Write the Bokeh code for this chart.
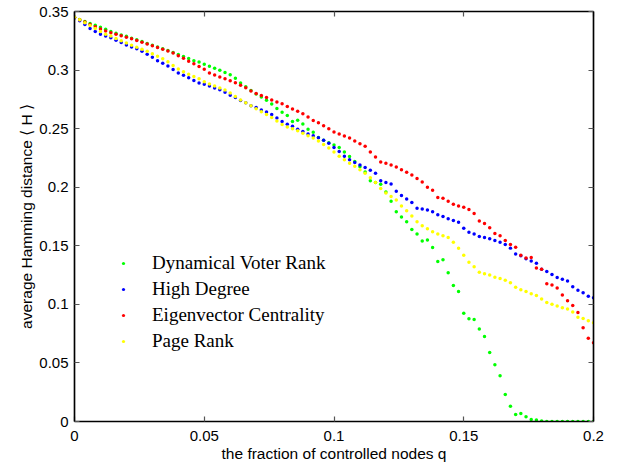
from bokeh.plotting import figure
from bokeh.models import Range1d, LinearAxis, FixedTicker, Legend, LegendItem
from bokeh.embed import file_html
from bokeh.resources import INLINE

# fraction of controlled nodes q (sampling positions)
q = [0.000, 0.002, 0.004, 0.006, 0.008, 0.010, 0.012, 0.014, 0.016, 0.018,
     0.020, 0.022, 0.024, 0.026, 0.028, 0.030, 0.032, 0.034, 0.036, 0.038,
     0.040, 0.042, 0.044, 0.046, 0.048, 0.050, 0.052, 0.054, 0.056, 0.058,
     0.060, 0.062, 0.064, 0.066, 0.068, 0.070, 0.072, 0.074, 0.076, 0.078,
     0.080, 0.082, 0.084, 0.086, 0.088, 0.090, 0.092, 0.094, 0.096, 0.098,
     0.100, 0.102, 0.104, 0.106, 0.108, 0.110, 0.112, 0.114, 0.116, 0.118,
     0.120, 0.122, 0.124, 0.126, 0.128, 0.130, 0.132, 0.134, 0.136, 0.138,
     0.140, 0.142, 0.144, 0.146, 0.148, 0.150, 0.152, 0.154, 0.156, 0.158,
     0.160, 0.162, 0.164, 0.166, 0.168, 0.170, 0.172, 0.174, 0.176, 0.178,
     0.180, 0.182, 0.184, 0.186, 0.188, 0.190, 0.192, 0.194, 0.196, 0.198,
     0.200]

dynamical_voter_rank = [
    0.3450, 0.3432, 0.3415, 0.3398, 0.3382, 0.3365, 0.3348, 0.3330, 0.3315, 0.3300,
    0.3288, 0.3272, 0.3258, 0.3243, 0.3227, 0.3212, 0.3196, 0.3182, 0.3168, 0.3150,
    0.3132, 0.3115, 0.3098, 0.3080, 0.3068, 0.3050, 0.3032, 0.3015, 0.2998, 0.2980,
    0.2960, 0.2930, 0.2890, 0.2858, 0.2825, 0.2795, 0.2770, 0.2742, 0.2710, 0.2672,
    0.2640, 0.2612, 0.2560, 0.2572, 0.2540, 0.2495, 0.2470, 0.2425, 0.2400, 0.2380,
    0.2360, 0.2340, 0.2300, 0.2262, 0.2220, 0.2175, 0.2130, 0.2055, 0.2040, 0.2025,
    0.1960, 0.1880, 0.1790, 0.1745, 0.1705, 0.1640, 0.1600, 0.1540, 0.1550, 0.1485,
    0.1365, 0.1380, 0.1270, 0.1160, 0.1110, 0.0925, 0.0877, 0.0870, 0.0790, 0.0725,
    0.0590, 0.0485, 0.0390, 0.0230, 0.0130, 0.0060, 0.0068, 0.0040, 0.0018, 0.0012,
    0.0005, 0.0000, 0.0000, 0.0000, 0.0000, 0.0000, 0.0000, 0.0000, 0.0000, 0.0000,
    0.0000]

high_degree = [
    0.3445, 0.3420, 0.3390, 0.3355, 0.3330, 0.3305, 0.3290, 0.3275, 0.3255, 0.3235,
    0.3215, 0.3198, 0.3182, 0.3160, 0.3135, 0.3110, 0.3080, 0.3058, 0.3035, 0.3005,
    0.2975, 0.2955, 0.2935, 0.2910, 0.2890, 0.2880, 0.2865, 0.2848, 0.2832, 0.2810,
    0.2785, 0.2765, 0.2740, 0.2720, 0.2695, 0.2680, 0.2660, 0.2642, 0.2620, 0.2590,
    0.2560, 0.2538, 0.2520, 0.2495, 0.2475, 0.2455, 0.2440, 0.2422, 0.2400, 0.2375,
    0.2340, 0.2305, 0.2265, 0.2235, 0.2210, 0.2190, 0.2168, 0.2145, 0.2120, 0.2055,
    0.2040, 0.2028, 0.1965, 0.1930, 0.1900, 0.1870, 0.1820, 0.1815, 0.1805, 0.1790,
    0.1765, 0.1750, 0.1730, 0.1715, 0.1700, 0.1650, 0.1615, 0.1600, 0.1580, 0.1570,
    0.1560, 0.1545, 0.1530, 0.1510, 0.1480, 0.1430, 0.1415, 0.1390, 0.1370, 0.1350,
    0.1300, 0.1280, 0.1255, 0.1230, 0.1215, 0.1200, 0.1150, 0.1120, 0.1100, 0.1070,
    0.1056]

eigenvector_centrality = [
    0.3450, 0.3430, 0.3410, 0.3390, 0.3370, 0.3350, 0.3333, 0.3318, 0.3305, 0.3292,
    0.3280, 0.3267, 0.3253, 0.3238, 0.3222, 0.3208, 0.3192, 0.3178, 0.3162, 0.3145,
    0.3122, 0.3100, 0.3075, 0.3055, 0.3030, 0.3008, 0.2975, 0.2958, 0.2940, 0.2925,
    0.2908, 0.2892, 0.2870, 0.2850, 0.2822, 0.2800, 0.2782, 0.2765, 0.2745, 0.2728,
    0.2712, 0.2690, 0.2668, 0.2648, 0.2628, 0.2600, 0.2570, 0.2550, 0.2525, 0.2500,
    0.2472, 0.2455, 0.2438, 0.2420, 0.2395, 0.2370, 0.2350, 0.2300, 0.2258, 0.2215,
    0.2205, 0.2190, 0.2172, 0.2150, 0.2128, 0.2105, 0.2075, 0.2045, 0.2000, 0.1975,
    0.1912, 0.1905, 0.1880, 0.1855, 0.1840, 0.1829, 0.1810, 0.1775, 0.1712, 0.1690,
    0.1655, 0.1605, 0.1585, 0.1545, 0.1510, 0.1488, 0.1420, 0.1395, 0.1400, 0.1310,
    0.1300, 0.1176, 0.1165, 0.1140, 0.1080, 0.1030, 0.0990, 0.0930, 0.0800, 0.0710,
    0.0672]

page_rank = [
    0.3450, 0.3430, 0.3405, 0.3380, 0.3355, 0.3330, 0.3305, 0.3290, 0.3270, 0.3250,
    0.3232, 0.3212, 0.3195, 0.3178, 0.3160, 0.3140, 0.3118, 0.3096, 0.3070, 0.3040,
    0.3010, 0.2985, 0.2965, 0.2945, 0.2925, 0.2900, 0.2882, 0.2865, 0.2848, 0.2830,
    0.2805, 0.2775, 0.2745, 0.2720, 0.2695, 0.2670, 0.2645, 0.2620, 0.2595, 0.2565,
    0.2535, 0.2515, 0.2500, 0.2482, 0.2460, 0.2440, 0.2420, 0.2395, 0.2365, 0.2335,
    0.2300, 0.2265, 0.2235, 0.2205, 0.2180, 0.2150, 0.2120, 0.2080, 0.2040, 0.1990,
    0.1950, 0.1920, 0.1890, 0.1840, 0.1800, 0.1755, 0.1705, 0.1670, 0.1645, 0.1620,
    0.1600, 0.1585, 0.1570, 0.1530, 0.1480, 0.1420, 0.1360, 0.1320, 0.1275, 0.1262,
    0.1250, 0.1232, 0.1220, 0.1205, 0.1185, 0.1145, 0.1125, 0.1110, 0.1090, 0.1075,
    0.1045, 0.1015, 0.1000, 0.0985, 0.0972, 0.0960, 0.0935, 0.0890, 0.0880, 0.0860,
    0.0843]

series_names = ["Dynamical Voter Rank", "High Degree", "Eigenvector Centrality", "Page Rank"]
series_values = [dynamical_voter_rank, high_degree, eigenvector_centrality, page_rank]
series_colors = ["#00ff00", "#0000ff", "#ff0000", "#ffff00"]

x_ticks = [0, 0.05, 0.1, 0.15, 0.2]
x_tick_labels = ["0", "0.05", "0.1", "0.15", "0.2"]
y_ticks = [0, 0.05, 0.1, 0.15, 0.2, 0.25, 0.3, 0.35]
y_tick_labels = ["0", "0.05", "0.1", "0.15", "0.2", "0.25", "0.3", "0.35"]

SANS = "Liberation Sans"
SERIF = "Liberation Serif"

p = figure(frame_width=519, frame_height=410,
           x_range=Range1d(0, 0.2), y_range=Range1d(0, 0.35),
           output_backend="svg", toolbar_location=None,
           min_border_left=74, min_border_right=20, min_border_top=11,
           min_border_bottom=44,
           x_axis_label="the fraction of controlled nodes q",
           y_axis_label="average Hamming distance \u27e8 H \u27e9")
p.xgrid.visible = False
p.ygrid.visible = False
p.outline_line_color = "black"
p.outline_line_width = 1.2
p.background_fill_color = "white"
p.border_fill_color = "white"

renderers = []
for name, vals, col in zip(series_names, series_values, series_colors):
    r = p.scatter(q, vals, size=3.5, fill_color=col, line_color=None, marker="circle")
    renderers.append((name, r))

def style_axis(ax, show_labels=True):
    ax.axis_line_color = "black"
    ax.axis_line_width = 1.5
    ax.major_tick_in = 5
    ax.major_tick_out = 0
    ax.major_tick_line_color = "#555555"
    ax.major_tick_line_width = 1.2
    ax.minor_tick_line_color = None
    ax.major_label_text_font = SANS
    ax.major_label_text_font_size = "15px"
    ax.major_label_text_color = "black"
    ax.axis_label_text_font = SANS
    ax.axis_label_text_font_size = "15.5px"
    ax.axis_label_text_font_style = "normal"
    ax.axis_label_text_color = "black"
    if not show_labels:
        ax.major_label_text_font_size = "0px"
        ax.major_label_standoff = 0

xa = p.xaxis[0]
xa.ticker = FixedTicker(ticks=x_ticks)
xa.major_label_overrides = dict(zip(x_ticks, x_tick_labels))
style_axis(xa)
xa.major_label_standoff = 9
xa.axis_label_standoff = 1

ya = p.yaxis[0]
ya.ticker = FixedTicker(ticks=y_ticks)
ya.major_label_overrides = dict(zip(y_ticks, y_tick_labels))
style_axis(ya)
ya.major_label_standoff = 6
ya.axis_label_standoff = 1

top = LinearAxis(ticker=FixedTicker(ticks=x_ticks))
top.major_label_overrides = {t: "" for t in x_ticks}
style_axis(top, show_labels=False)
p.add_layout(top, "above")

right = LinearAxis(ticker=FixedTicker(ticks=y_ticks))
right.major_label_overrides = {t: "" for t in y_ticks}
style_axis(right, show_labels=False)
p.add_layout(right, "right")

legend = Legend(items=[LegendItem(label=n, renderers=[r]) for n, r in renderers],
                location=(45, 69))
legend.label_text_font = SERIF
legend.label_text_font_size = "19px"
legend.label_text_color = "black"
legend.glyph_width = 8
legend.glyph_height = 8
legend.label_height = 20
legend.label_standoff = 25
legend.spacing = 4
legend.padding = 0
legend.margin = 0
legend.border_line_color = None
legend.background_fill_alpha = 0
p.add_layout(legend)

open("out.html", "w").write(file_html(p, INLINE))
